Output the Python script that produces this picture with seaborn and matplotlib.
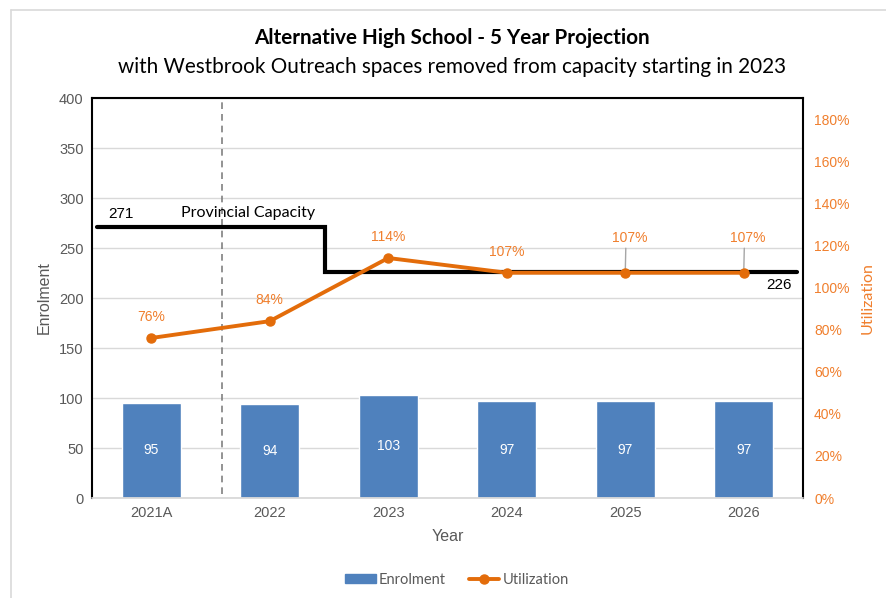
import matplotlib
matplotlib.use("Agg")
import matplotlib.pyplot as plt
from matplotlib.lines import Line2D
from matplotlib.ticker import FuncFormatter, MultipleLocator
import seaborn as sns
import pandas as pd

# --- data -----------------------------------------------------------------
years = ["2021A", "2022", "2023", "2024", "2025", "2026"]
enrolment = [95, 94, 103, 97, 97, 97]
utilization = [76, 84, 114, 107, 107, 107]          # percent
capacity_levels = [271, 226]                        # before / from 2023
capacity_label = "Provincial Capacity"

df = pd.DataFrame({"Year": years, "Enrolment": enrolment, "Utilization": utilization})

# --- styling --------------------------------------------------------------
sns.set_theme(style="white")
plt.rcParams["font.family"] = ["Liberation Sans", "DejaVu Sans"]

BAR = "#4F81BD"
ORANGE = "#E36C0A"
ORANGE_TXT = "#F07F2D"
GREY_TXT = "#595959"
GRID = "#D9D9D9"
HUM = ["Lato", "DejaVu Sans"]

fig = plt.figure(figsize=(8.87, 5.98), dpi=100)
ax = fig.add_axes([92 / 887, 100 / 598, 711 / 887, 400 / 598])

sns.barplot(data=df, x="Year", y="Enrolment", order=years, color=BAR,
            width=0.5, saturation=1, ax=ax, zorder=2)
ax.set_ylim(0, 400)
ax.set_xlim(-0.5, len(years) - 0.5)
ax.yaxis.set_major_locator(MultipleLocator(50))
ax.grid(axis="y", color=GRID, linewidth=1, zorder=0)
ax.set_axisbelow(True)
ax.tick_params(axis="both", colors=GREY_TXT, labelsize=10.5, length=0, pad=6)
ax.set_xlabel("Year", color=GREY_TXT, fontsize=11.5, labelpad=6)
ax.set_ylabel("Enrolment", color=GREY_TXT, fontsize=11.5, labelpad=5)

# utilization on the secondary axis
ax2 = ax.twinx()

for a in (ax, ax2):
    for s in a.spines.values():
        s.set_visible(False)
for s in ["top", "left", "right"]:
    ax.spines[s].set_visible(True)
    ax.spines[s].set_color("black")
    ax.spines[s].set_linewidth(1.5)
# light baseline along the category axis
ax.axhline(0, color=GRID, linewidth=1.3, zorder=3, clip_on=False)

# value labels inside bars
for i, v in enumerate(enrolment):
    ax.text(i, v / 2, f"{v}", ha="center", va="center", color="white",
            fontsize=10, zorder=4)

# separator between actual and projected years
ax.axvline(0.6, ymin=0.01, ymax=1, color="#808080", linestyle=(0, (4, 3)),
           linewidth=1.2, zorder=1)

# provincial capacity step line
step_x = [-0.46, 1.47, 1.47, 5.45]
step_y = [capacity_levels[0], capacity_levels[0], capacity_levels[1], capacity_levels[1]]
ax.plot(step_x, step_y, color="black", linewidth=3, zorder=3,
        solid_joinstyle="miter")
ax.annotate(f"{capacity_levels[0]}", (-0.46, capacity_levels[0]), xytext=(8, 4),
            textcoords="offset points", ha="left", va="bottom", fontsize=11,
            color="black")
ax.annotate(capacity_label, (0.25, capacity_levels[0]), xytext=(0, 5),
            textcoords="offset points", ha="left", va="bottom", fontsize=11.5,
            color="black", family=HUM)
ax.annotate(f"{capacity_levels[1]}", (5.45, capacity_levels[1]), xytext=(-4, -4),
            textcoords="offset points", ha="right", va="top", fontsize=11,
            color="black")

x_pos = list(range(len(years)))
ax2.plot(x_pos, utilization, color=ORANGE, linewidth=2.8, marker="o",
         markersize=6.5, zorder=5)
ax2.set_ylim(0, 190)
ax2.set_yticks(range(0, 181, 20))
ax2.yaxis.set_major_formatter(FuncFormatter(lambda v, p: f"{v:.0f}%"))
ax2.tick_params(axis="y", colors=ORANGE_TXT, labelsize=10, length=0, pad=8)
ax2.set_ylabel("Utilization", color=ORANGE_TXT, fontsize=11.5, labelpad=8,
               family=HUM)
ax2.grid(False)

leader = [False, False, False, False, True, True]
for i, (u, lead) in enumerate(zip(utilization, leader)):
    if lead:
        ax2.annotate(f"{u}%", (i, u), xytext=(3, 20), textcoords="offset points",
                     ha="center", va="bottom", color=ORANGE_TXT, fontsize=10,
                     arrowprops=dict(arrowstyle="-", color="#A6A6A6", lw=1,
                                     shrinkA=0, shrinkB=3,
                                     relpos=(0.4, 0.0)))
    else:
        ax2.annotate(f"{u}%", (i, u), xytext=(0, 10), textcoords="offset points",
                     ha="center", va="bottom", color=ORANGE_TXT, fontsize=10)

# titles
fig.text(0.51, 1 - 38 / 598, "Alternative High School - 5 Year Projection",
         ha="center", va="center", fontsize=14.9, fontweight="bold",
         color="black", family=HUM)
fig.text(0.51, 1 - 67 / 598,
         "with Westbrook Outreach spaces removed from capacity starting in 2023",
         ha="center", va="center", fontsize=14.9, color="black", family=HUM)

# legend
handles = [
    plt.Rectangle((0, 0), 1, 1, color=BAR),
    Line2D([0], [0], color=ORANGE, linewidth=2.8, marker="o", markersize=6.5),
]
fig.legend(handles, ["Enrolment", "Utilization"], loc="center",
           bbox_to_anchor=(0.515, 1 - 580 / 598), ncol=2, frameon=False,
           labelcolor=GREY_TXT, handlelength=2.1, handleheight=0.6,
           handletextpad=0.2, columnspacing=1.6,
           prop={"family": HUM, "size": 10.5})

# chart frame
fig.add_artist(Line2D([11 / 887, 11 / 887], [0, 1 - 10 / 598], color=GRID, lw=1.2,
                      transform=fig.transFigure))
fig.add_artist(Line2D([11 / 887, 1], [1 - 10 / 598, 1 - 10 / 598], color=GRID, lw=1.2,
                      transform=fig.transFigure))

fig.savefig("out.png", dpi=100, facecolor="white")
